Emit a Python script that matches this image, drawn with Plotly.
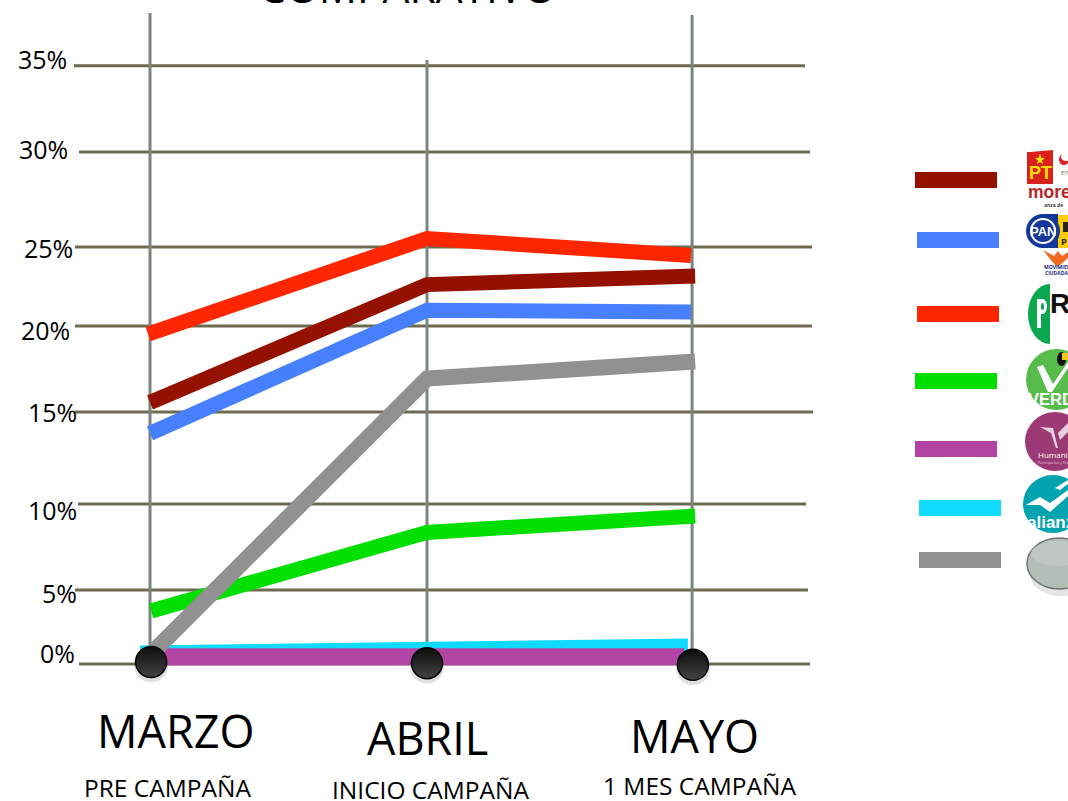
import plotly.graph_objects as go

W, H = 1068, 801
FONT = "Open Sans"

# ---- data (percent on the linear axis, month position on the x axis) ----
months = ["MARZO", "ABRIL", "MAYO"]
phases = ["PRE CAMPAÑA", "INICIO CAMPAÑA", "1 MES CAMPAÑA"]
month_pos = [0, 1, 1.957]
tick_labels = ["35%", "30%", "25%", "20%", "15%", "10%", "5%", "0%"]
grid_values = [35.0, 29.96, 24.4, 19.78, 14.75, 9.36, 4.33, 0.0]

cyan_x = [-0.036, 1, 1.942]
cyan_y = [0.65, 0.95, 1.05]
purple_x = [0, 1, 1.928]
purple_y = [0.42, 0.42, 0.42]
green_x = [0.004, 1, 1.968]
green_y = [3.1, 7.7, 8.66]
grey_x = [0.018, 1, 1.968]
grey_y = [0.82, 16.7, 17.7]
blue_x = [0, 1, 1.953]
blue_y = [13.5, 20.7, 20.6]
darkred_x = [0, 1, 1.968]
darkred_y = [15.3, 22.2, 22.7]
red_x = [-0.007, 1, 1.953]
red_y = [19.3, 24.9, 23.9]
dot_x = [0.004, 1, 1.96]
dot_y = [0.12, 0.05, -0.05]

series = [
    ("Nueva Alianza", cyan_x, cyan_y, "#10DBFF", 15),
    ("Humanista", purple_x, purple_y, "#B245A3", 17),
    ("Verde", green_x, green_y, "#00DF00", 15),
    ("Otros", grey_x, grey_y, "#919191", 16),
    ("PAN-PRD-MC", blue_x, blue_y, "#4780FF", 15),
    ("PT-Morena", darkred_x, darkred_y, "#941100", 15),
    ("PRI", red_x, red_y, "#FF2600", 15),
]
legend_colors = ["#941100", "#4780FF", "#FF2600", "#00DF00", "#B245A3", "#10DBFF", "#919191"]


def fx(p):
    return p / W


def fy(p):
    return 1 - p / H


# ---- layout helpers (page pixel -> paper fraction) ----
shapes, notes = [], []


def rect(x0, y0, x1, y1, color, layer="above", line=None):
    shapes.append(dict(type="rect", xref="paper", yref="paper", x0=fx(x0), x1=fx(x1),
                       y0=fy(y1), y1=fy(y0), fillcolor=color, layer=layer,
                       line=dict(width=0) if line is None else line))


def ell(x0, y0, x1, y1, color, line=None):
    shapes.append(dict(type="circle", xref="paper", yref="paper", x0=fx(x0), x1=fx(x1),
                       y0=fy(y1), y1=fy(y0), fillcolor=color, layer="above",
                       line=dict(width=0) if line is None else line))


def poly(points, color):
    d = "M" + " L".join(f"{fx(a):.5f},{fy(b):.5f}" for a, b in points) + " Z"
    shapes.append(dict(type="path", xref="paper", yref="paper", path=d, fillcolor=color,
                       layer="above", line=dict(width=0)))


def text(s, x, y, size, color="#000000", anchor="center", bold=False, family=FONT):
    label = f"<b>{s}</b>" if bold else s
    notes.append(dict(text=label, xref="paper", yref="paper", x=fx(x), y=fy(y),
                      xanchor=anchor, yanchor="middle", showarrow=False,
                      font=dict(family=family, size=size, color=color)))


# ---- grid ----
grid_extent = [(74, 805), (79, 810), (75, 812), (75, 812), (75, 813), (78, 806), (75, 808), (79, 810)]
for v, (a, b) in zip(grid_values, grid_extent):
    shapes.append(dict(type="line", xref="paper", yref="y", x0=fx(a), x1=fx(b), y0=v, y1=v,
                       layer="below", line=dict(color="#6C6B50", width=3)))

vert_tops = [13, 60, 15]
for m, top in zip(month_pos, vert_tops):
    shapes.append(dict(type="line", xref="x", yref="paper", x0=m, x1=m, y0=fy(664), y1=fy(top),
                       layer="below", line=dict(color="#7A857F", width=3)))

# ---- axis labels ----
tick_px = [(42, 59), (43, 149), (48, 248), (45, 330), (52, 412), (52, 510), (59, 593), (57, 653)]
for t, (x, y) in zip(tick_labels, tick_px):
    text(t, x, y, 25)

text("COMPARATIVO", 407, -13, 42.5)
for t, (x, y) in zip(months, [(176, 730), (427, 737), (694, 735)]):
    text(t, x, y, 45)
for t, (x, y) in zip(phases, [(167, 787), (430, 789), (699, 785)]):
    text(t, x, y, 24.5)

# ---- legend keys ----
key_boxes = [(915, 172), (917, 232), (917, 306), (915, 373), (915, 441), (919, 500), (919, 552)]
for c, (x, y) in zip(legend_colors, key_boxes):
    rect(x, y, x + 82, y + 16, c)

# ---- PT / Morena badge ----
rect(1027, 152, 1053, 184, "#D8211C")
poly([(1030, 152), (1053, 150), (1053, 154), (1030, 154)], "#D8211C")
poly([(1040, 154), (1041.5, 158), (1045, 158), (1042, 160.5), (1043, 164), (1040, 162), (1037, 164), (1038, 160.5), (1035, 158), (1038.5, 158)], "#FFE100")
text("PT", 1040, 173, 18, "#FFE100", bold=True, family="Liberation Sans")
ell(1059, 154, 1069, 165, "#D8211C")
ell(1061, 153, 1071, 161, "#FFFFFF")
text("enc", 1059, 173, 6.5, "#777777", anchor="left")
text("morena", 1026, 192, 17.5, "#B3262A", anchor="left", bold=True, family="Liberation Sans")
text("anza de", 1042, 205, 5, "#444444", anchor="left", bold=True)

# ---- PAN / PRD / Movimiento Ciudadano badge ----
rect(1057, 215, 1068, 248, "#FFCC00")
ell(1026, 214, 1060, 248, "#14389A")
rect(1042, 214, 1058, 248, "#14389A")
ell(1030, 218, 1056, 244, "#FFFFFF")
ell(1032, 220, 1054, 242, "#14389A")
text("PAN", 1043, 231, 13, "#FFFFFF", bold=True, family="Liberation Sans")
rect(1063, 222, 1068, 232, "#222222")
text("P", 1064, 241, 9, "#222222", bold=True)
poly([(1043, 250), (1054, 256), (1058, 251), (1062, 256), (1068, 252), (1068, 258), (1060, 265), (1056, 266), (1050, 259)], "#F26A21")
text("MOVIMIENTO", 1042, 267, 5, "#1C2A7D", anchor="left", bold=True)
text("CIUDADANA", 1043, 273, 5, "#1C2A7D", anchor="left", bold=True)

# ---- PRI badge ----
ell(1028, 284, 1072, 344, "#0AA650")
rect(1050, 282, 1068, 346, "#FFFFFF")
rect(1037, 299, 1041, 328, "#FFFFFF")
ell(1038, 299, 1047, 314, "#FFFFFF")
ell(1041, 303, 1044, 310, "#0AA650")
text("R", 1060, 303, 28, "#111111", bold=True, family="Liberation Sans")

# ---- Verde badge ----
ell(1026, 349, 1087, 410, "#57BC4C")
poly([(1037, 367), (1043, 365), (1053, 384), (1068, 362), (1068, 368), (1052, 392), (1048, 392)], "#FFFFFF")
ell(1057, 352, 1066, 366, "#111111")
rect(1062, 353, 1068, 360, "#F7C51D")
text("VERDE", 1026, 399, 16.5, "#FFFFFF", anchor="left", bold=True, family="Liberation Sans")

# ---- Humanista badge ----
ell(1025, 412, 1085, 471, "#9C3A75")
poly([(1040, 427), (1053, 428), (1058, 448), (1056, 448), (1051, 433)], "#E6CFE0")
poly([(1058, 433), (1068, 423), (1068, 432), (1060, 440)], "#E6CFE0")
text("Humanista", 1036, 454, 8, "#FFFFFF", anchor="left")
text("Participación y Progreso", 1036, 462, 3.5, "#E6CFE0", anchor="left")

# ---- Nueva Alianza badge ----
ell(1023, 475, 1083, 533, "#00A3AE")
poly([(1026, 505), (1040, 497), (1050, 503), (1068, 490), (1068, 496), (1050, 512), (1040, 505)], "#FFFFFF")
poly([(1055, 488), (1068, 480), (1068, 484), (1060, 490)], "#FFFFFF")
text("alianza", 1025, 522, 17, "#FFFFFF", anchor="left", bold=True, family="Liberation Sans")

# ---- grey badge ----
ell(1030, 554, 1092, 596, "rgba(80,80,80,0.15)")
ell(1027, 538, 1091, 589, "#B5BDB7", line=dict(color="#6F7370", width=1.5))
ell(1031, 541, 1087, 566, "#C0C7C2")

# ---- figure ----
fig = go.Figure()
for name, xs, ys, color, width in series:
    fig.add_trace(go.Scatter(x=xs, y=ys, mode="lines", name=name, showlegend=False, hoverinfo="skip",
                             line=dict(color=color, width=width)))

fig.add_trace(go.Scatter(x=dot_x, y=[v - 0.2 for v in dot_y], mode="markers", showlegend=False,
                         hoverinfo="skip", marker=dict(size=34, color="rgba(0,0,0,0.12)", line=dict(width=0))))
fig.add_trace(go.Scatter(x=dot_x, y=dot_y, mode="markers", showlegend=False, hoverinfo="skip",
                         marker=dict(size=31, color="#0C0C0C", line=dict(color="#050505", width=1.5),
                                     gradient=dict(type="vertical", color="#444444"))))

fig.update_layout(
    width=W, height=H, margin=dict(l=0, r=0, t=0, b=0), autosize=False,
    paper_bgcolor="#FFFFFF", plot_bgcolor="#FFFFFF", showlegend=False,
    shapes=shapes, annotations=notes,
    xaxis=dict(visible=False, range=[-150 / 277, (W - 150) / 277], fixedrange=True),
    yaxis=dict(visible=False, range=[(664 - H) / 17.09, 664 / 17.09], fixedrange=True),
)
fig.write_html("out.html", config=dict(displayModeBar=False),
               post_script="document.body.style.margin='0';document.body.style.overflow='hidden';")
